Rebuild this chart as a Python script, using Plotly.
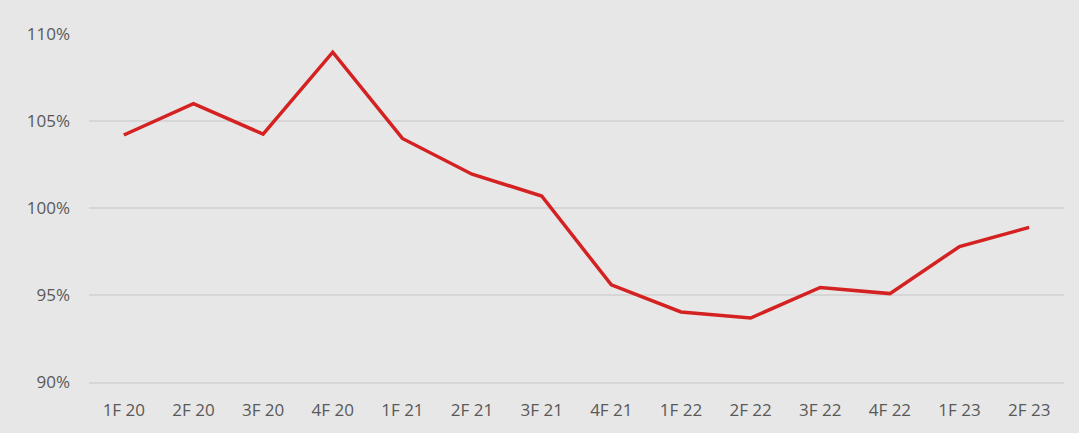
import plotly.graph_objects as go

categories = ["1F 20", "2F 20", "3F 20", "4F 20", "1F 21", "2F 21", "3F 21",
              "4F 21", "1F 22", "2F 22", "3F 22", "4F 22", "1F 23", "2F 23"]
values = [104.2, 106.0, 104.25, 108.95, 104.0, 101.95, 100.7,
          95.6, 94.05, 93.7, 95.45, 95.1, 97.8, 98.9]
y_ticks = [90, 95, 100, 105, 110]
y_tick_labels = ["90%", "95%", "100%", "105%", "110%"]

fig = go.Figure()
fig.add_trace(go.Scatter(
    x=categories, y=values, mode="lines",
    line=dict(color="#d42222", width=3.5),
    hoverinfo="x+y",
))

fig.update_layout(
    width=1079, height=433,
    margin=dict(l=89, r=15, t=33, b=44),
    paper_bgcolor="#e7e7e7",
    plot_bgcolor="#e7e7e7",
    showlegend=False,
    font=dict(family="'Open Sans', Lato, sans-serif", size=17, color="#595959"),
)
fig.update_xaxes(
    type="category", range=[-0.5, len(categories) - 0.5],
    showgrid=False, showline=False, zeroline=False,
    ticks="", ticklabelstandoff=12,
    tickfont=dict(size=17, color="#595959"),
)
fig.update_yaxes(
    range=[89.8, 110.05], tickvals=y_ticks, ticktext=y_tick_labels,
    showgrid=True, gridcolor="#d6d6d6", gridwidth=1.5,
    zeroline=False, showline=False, ticks="", ticklabelstandoff=18,
    tickfont=dict(size=17, color="#595959"),
)

fig.write_html("out.html",
               config={"displayModeBar": False},
               post_script="document.body.style.margin='0';document.body.style.background='#e7e7e7';")
